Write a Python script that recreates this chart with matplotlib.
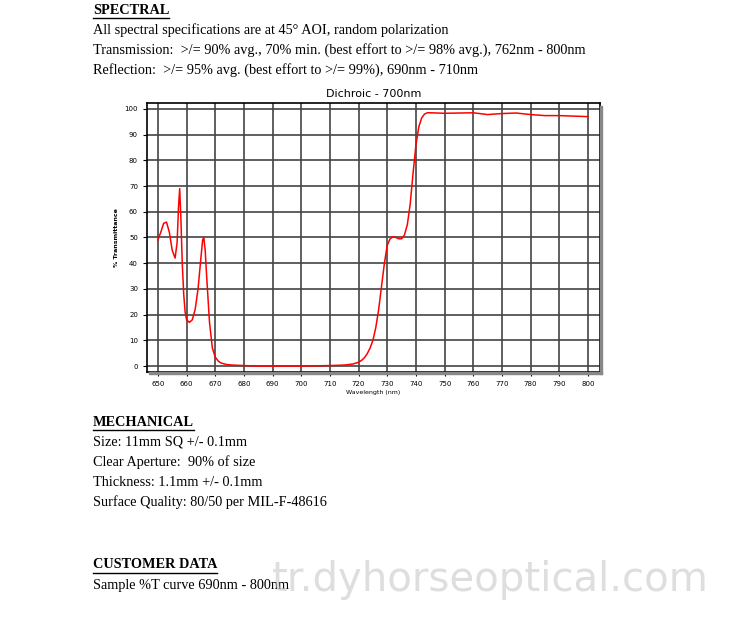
import numpy as np
import matplotlib.pyplot as plt
from matplotlib.patches import Rectangle

# curve
wl = [650, 651, 652, 653, 654, 655, 656, 656.7, 657.2, 657.6, 658, 658.5, 659, 659.5, 660, 661, 662, 663, 664,
      665, 665.6, 666, 666.5, 667, 668, 669, 670, 671, 672, 674, 676, 680, 685, 690, 700, 710, 715,
      718, 720, 721, 722, 723, 724, 725, 726, 727, 728, 729, 730, 731, 732, 733, 734, 735, 736,
      737, 738, 739, 740, 741, 742, 743, 744, 745, 750, 755, 760, 765, 770, 775, 780, 785, 790, 795, 800]
trans = [49, 52, 55.5, 56, 52, 45, 42, 48, 62, 69, 58, 40, 28, 21, 18, 17, 18, 22, 30,
         42, 49, 50, 45, 35, 17, 7, 3.5, 2, 1.2, 0.6, 0.4, 0.2, 0, 0, 0, 0.2, 0.4,
         0.8, 1.5, 2.2, 3.2, 4.8, 7, 10, 15, 22, 31, 40, 47, 49.5, 50.3, 50, 49.5, 49.5, 51,
         55, 63, 75, 86, 93, 96.5, 98, 98.5, 98.5, 98.3, 98.4, 98.5, 97.8, 98.2, 98.4, 97.8, 97.4, 97.4, 97.2, 97.0]

header = [("SPECTRAL", True),
          ("All spectral specifications are at 45° AOI, random polarization", False),
          ("Transmission:  >/= 90% avg., 70% min. (best effort to >/= 98% avg.), 762nm - 800nm", False),
          ("Reflection:  >/= 95% avg. (best effort to >/= 99%), 690nm - 710nm", False)]
mech = [("MECHANICAL", True),
        ("Size: 11mm SQ +/- 0.1mm", False),
        ("Clear Aperture:  90% of size", False),
        ("Thickness: 1.1mm +/- 0.1mm", False),
        ("Surface Quality: 80/50 per MIL-F-48616", False)]
cust = [("CUSTOMER DATA", True),
        ("Sample %T curve 690nm - 800nm", False)]

W, H = 742, 618
fig = plt.figure(figsize=(W / 100, H / 100), dpi=100)
serif = "Liberation Serif"

def block(lines, y0, step=20):
    for i, (txt, bold) in enumerate(lines):
        t = fig.text(93 / W, 1 - (y0 + i * step) / H, txt, family=serif, fontsize=10.3,
                     fontweight="bold" if bold else "normal", va="center")
        if bold:
            fig.canvas.draw()
            bb = t.get_window_extent()
            fig.add_artist(plt.Line2D([bb.x0 / W, bb.x1 / W], [(bb.y0 - 1) / H] * 2,
                                      color="black", lw=1, transform=fig.transFigure))

block(header, 10)
block(mech, 422)
block(cust, 565)

ax = fig.add_axes([147 / W, 1 - 372 / H, 453 / W, 269 / H])
ax.plot(wl, trans, color="red", lw=1.1, zorder=3)
ax.set_xlim(646.2, 804.2)
ax.set_ylim(-2.3, 102.3)
ax.set_xticks(np.arange(650, 801, 10))
ax.set_yticks(np.arange(0, 101, 10))
ax.grid(True, color="#444444", lw=1.2)
ax.tick_params(labelsize=5, length=3)
for s in ax.spines.values():
    s.set_linewidth(1.2)
ax.set_title("Dichroic - 700nm", fontsize=8, pad=4)
ax.set_xlabel("Wavelength (nm)", fontsize=4.5, labelpad=2)
ax.set_ylabel("% Transmittance", fontsize=4.5, labelpad=4, fontweight="bold")
# drop shadow on right/bottom
fig.add_artist(Rectangle((600 / W, 1 - 374 / H), 2 / W, 268 / H, color="#888888", transform=fig.transFigure))
fig.add_artist(Rectangle((149 / W, 1 - 374 / H), 453 / W, 2 / H, color="#888888", transform=fig.transFigure))

fig.text(490 / W, 1 - 580 / H, "tr.dyhorseoptical.com", fontsize=29, color="#c8c8c8", alpha=0.6,
         ha="center", va="center")

fig.savefig("out.png", dpi=100)
